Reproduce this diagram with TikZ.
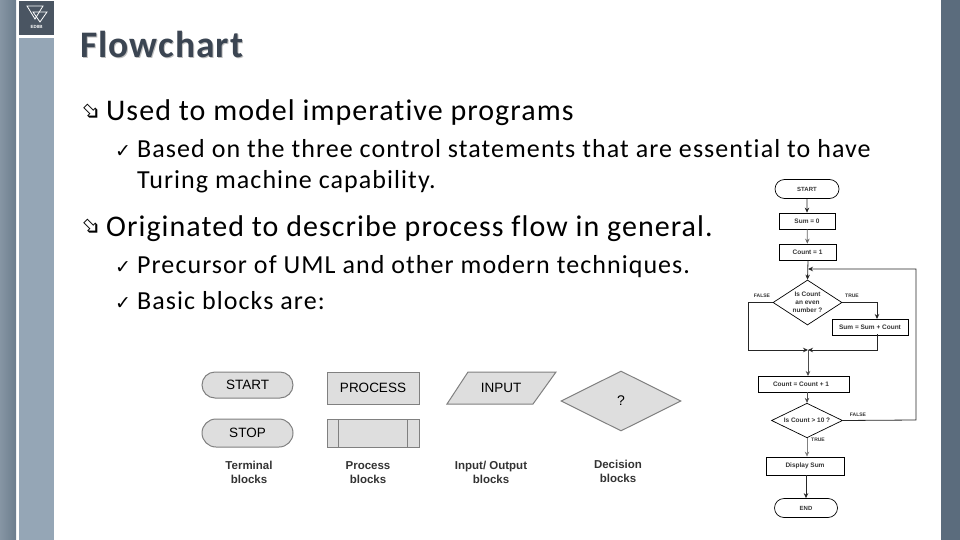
\documentclass[tikz,border=0pt]{standalone}
\usepackage{fontspec}
\setmainfont{Carlito}[Ligatures=NoCommon]
\setsansfont{Liberation Sans}
\newfontfamily\symfont{DejaVu Sans}
\newfontfamily\leadfont[LetterSpace=3.5,Ligatures=NoCommon]{Carlito}
\newfontfamily\subfont[LetterSpace=4.1,Ligatures=NoCommon]{Carlito}
\newfontfamily\headfont[LetterSpace=2.8,Ligatures=NoCommon,BoldFont=Carlito Bold]{Carlito}
\usetikzlibrary{positioning,arrows.meta,shapes.geometric,shapes.misc}
\definecolor{barleft}{HTML}{7F93A6}
\definecolor{barmid}{HTML}{95A6B6}
\definecolor{barright}{HTML}{5B6C7D}
\definecolor{logoback}{HTML}{4A5562}
\definecolor{titleink}{HTML}{3B4552}
\definecolor{blockfill}{HTML}{DEDEDE}
\definecolor{blockline}{HTML}{808080}
\tikzset{
  >={Stealth[length=5pt,width=4.5pt]},
  lead/.style={anchor=base west,font=\leadfont\fontsize{30}{30}\selectfont,inner sep=0pt},
  sublead/.style={anchor=base west,font=\subfont\fontsize{26}{26}\selectfont,inner sep=0pt},
  bul/.style={font=\symfont\fontsize{24}{24}\selectfont,inner sep=0pt,rotate=-45},
  tick/.style={anchor=base west,font=\symfont\fontsize{19}{19}\selectfont,inner sep=0pt},
  term/.style={draw=blockline,fill=blockfill,line width=1pt,rounded rectangle,
    minimum width=91pt,minimum height=26pt,inner sep=0pt,font=\sffamily\fontsize{13.5}{13.5}\selectfont},
  proc/.style={draw=blockline,fill=blockfill,line width=1pt,minimum width=92pt,
    minimum height=32pt,inner sep=0pt,font=\sffamily\fontsize{13.5}{13.5}\selectfont},
  blockcap/.style={align=center,font=\sffamily\bfseries\fontsize{11.5}{13.5}\selectfont,
    inner sep=0pt,text=black!80},
  fcterm/.style={draw,line width=.7pt,rounded rectangle,minimum width=64pt,minimum height=19pt,
    inner sep=0pt,font=\sffamily\bfseries\fontsize{6}{6}\selectfont,text=black!80},
  fcbox/.style={draw,line width=.7pt,minimum height=16pt,inner sep=0pt,
    font=\sffamily\bfseries\fontsize{6.5}{6.5}\selectfont,text=black!80},
  fcdec/.style={draw,line width=.7pt,diamond,aspect=1.55,inner sep=0pt,align=center,
    font=\sffamily\bfseries\fontsize{6.5}{8}\selectfont,text=black!80},
  fclbl/.style={font=\sffamily\bfseries\fontsize{5}{5}\selectfont,inner sep=0pt,text=black!80},
  flow/.style={->,line width=.8pt,black!85},
}
\begin{document}
\begin{tikzpicture}[x=1pt,y=-1pt]
  \useasboundingbox (0,0) rectangle (960,540);
  % side bars
  \shade[left color=barmid!90!black,right color=barleft!85!black] (0,0) rectangle (16,540);
  \fill[barmid] (19,38) rectangle (54,540);
  \fill[logoback] (19,1) rectangle (54,35);
  \fill[barright] (941,0) rectangle (960,540);
  \draw[white,line width=.8pt] (27,6) -- (43,6) -- (35,19) -- cycle;
  \draw[white,line width=.8pt] (33,12) -- (47,12) -- (40,22) -- cycle;
  \node[white,inner sep=0pt,font=\sffamily\bfseries\fontsize{4.5}{4.5}\selectfont] (logotext) at (36.5,27) {EDIIB};
  % title and text
  \node[anchor=base west,inner sep=0pt,text=black!25,font=\headfont\bfseries\fontsize{37.5}{37.5}\selectfont] (titleshade) at (81,59) {Flowchart};
  \node[anchor=base west,inner sep=0pt,text=titleink,font=\headfont\bfseries\fontsize{37.5}{37.5}\selectfont] (title) at (80,58) {Flowchart};
  \node[bul] (b1) at (91,113) {➩};
  \node[lead] (t1) at (106,121) {Used to model imperative programs};
  \node[tick] (c1) at (115,158) {✓};
  \node[sublead] (t2) at (137,158) {Based on the three control statements that are essential to have};
  \node[sublead] (t3) at (137,188) {Turing machine capability.};
  \node[bul] (b2) at (91,228) {➩};
  \node[lead] (t4) at (106,236) {Originated to describe process flow in general.};
  \node[tick] (c2) at (115,273) {✓};
  \node[sublead] (t5) at (137,273) {Precursor of UML and other modern techniques.};
  \node[tick] (c3) at (115,309) {✓};
  \node[sublead] (t6) at (137,309) {Basic blocks are:};
  % basic blocks
  \node[term] (start) at (247.5,385) {START};
  \node[term,minimum height=28pt] (stop) at (247.5,433) {STOP};
  \node[proc] (process) at (373,388) {PROCESS};
  \node[proc,minimum height=28pt] (subproc) at (373,433) {};
  \draw[blockline,line width=1pt] (338,419) -- (338,447);
  \draw[blockline,line width=1pt] (407,419) -- (407,447);
  \draw[draw=blockline,fill=blockfill,line width=1pt] (468,372) -- (556,372) -- (533,404) -- (447,404) -- cycle;
  \node[inner sep=0pt,font=\sffamily\fontsize{13.5}{13.5}\selectfont] (input) at (501,388) {INPUT};
  \node[draw=blockline,fill=blockfill,line width=1pt,diamond,aspect=2,minimum width=120pt,
    minimum height=60pt,inner sep=0pt,font=\sffamily\fontsize{14}{14}\selectfont] (query) at (621,401) {?};
  \node[blockcap] (cap1) at (249,472.5) {Terminal\\blocks};
  \node[blockcap] (cap2) at (368,472.5) {Process\\blocks};
  \node[blockcap] (cap3) at (491,472.5) {Input/ Output\\blocks};
  \node[blockcap] (cap4) at (618,471.5) {Decision\\blocks};
  % small flowchart
  \node[fcterm] (fstart) at (807,189) {START};
  \node[fcbox,minimum width=56pt] (sum) at (807,221) {Sum = 0};
  \node[fcbox,minimum width=57pt] (count) at (807.5,252) {Count = 1};
  \node[fcdec,minimum width=69pt,minimum height=45pt] (even) at (807.5,302.5) {Is Count\\an even\\number ?};
  \node[fcbox,minimum width=76pt] (add) at (870,327) {Sum = Sum + Count};
  \coordinate (merge) at (808,350);
  \node[fcbox,minimum width=91pt] (incr) at (803.5,384) {\hspace*{-5pt}Count = Count + 1};
  \node[fcdec,minimum width=71pt,minimum height=33pt] (limit) at (807,420.5) {Is Count > 10 ?};
  \node[fcbox,minimum width=78pt,minimum height=18pt] (show) at (805,466) {Display Sum};
  \node[fcterm,minimum width=63pt] (fend) at (806,508) {END};
  \coordinate (back) at (808,269);
  \draw[flow] (fstart) -- (sum);
  \draw[flow,black!60] (sum) -- (count);
  \draw[flow] (count.south -| back) -- (even.north);
  \draw[flow] (limit.east) -- (916,420) -- (916,269) -- (back);
  \draw[flow] (even.west) -- (748,302.5) -- (748,350) -- (merge);
  \draw[flow] (even.east) -- (877,302.5) -- (877,319);
  \draw[flow] (877,334) -- (877,350) -- (merge);
  \draw[flow,black!70] (merge) -- (808,376);
  \draw[flow,black!70] (incr.south -| limit) -- (limit.north);
  \draw[flow,black!50] (limit.south) -- (limit.south |- show.north);
  \draw[flow] (show.south -| fend) -- (fend.north);
  \node[fclbl] (lf1) at (762,296) {FALSE};
  \node[fclbl] (lt1) at (852,296) {TRUE};
  \node[fclbl] (lf2) at (858,414.5) {FALSE};
  \node[fclbl] (lt2) at (818,440) {TRUE};
\end{tikzpicture}
\end{document}
